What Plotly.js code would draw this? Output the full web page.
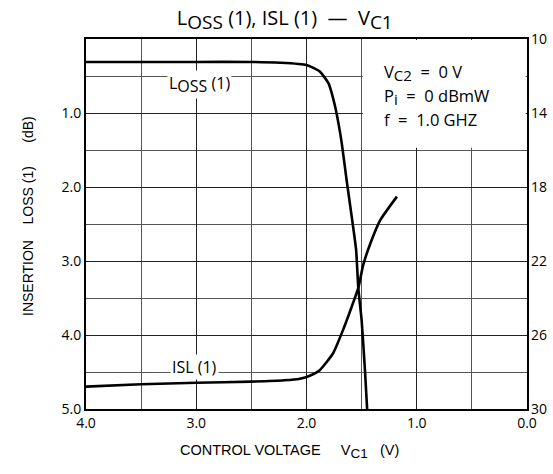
<!DOCTYPE html>
<html>
<head>
<meta charset="utf-8">
<script src="https://cdn.plot.ly/plotly-3.0.1.min.js"></script>
<style>html,body{margin:0;padding:0;background:#fff;}#chart{width:553px;height:474px;}</style>
</head>
<body>
<div id="chart"></div>
<script>
// Insertion loss (left axis, dB) vs control voltage VC1
var vc1Loss = [4.0, 3.5, 3.0, 2.5, 2.24, 2.0, 1.88, 1.80, 1.74, 1.71, 1.68, 1.635, 1.59, 1.55, 1.53, 1.50, 1.47, 1.45];
var lossDb  = [0.31, 0.31, 0.31, 0.31, 0.32, 0.35, 0.44, 0.60, 0.915, 1.14, 1.41, 1.92, 2.40, 2.85, 3.37, 3.80, 4.47, 5.0];
// Isolation (right axis, dB) vs control voltage VC1
var vc1Isl = [4.0, 3.5, 3.0, 2.5, 2.2, 2.06, 1.97, 1.88, 1.76, 1.67, 1.59, 1.53, 1.485, 1.42, 1.33, 1.18];
var islDb  = [28.79, 28.66, 28.58, 28.52, 28.45, 28.36, 28.2, 27.9, 27.0, 25.75, 24.47, 23.45, 22.2, 21.04, 19.78, 18.52];
// Tick labels
var xTickVals = [4, 3, 2, 1, 0];
var xTickText = ['4.0', '3.0', '2.0', '1.0', '0.0'];
var yTickVals = [1, 2, 3, 4, 5];
var yTickText = ['1.0', '2.0', '3.0', '4.0', '5.0'];
var y2TickVals = [10, 14, 18, 22, 26, 30];

var FONT = '"Open Sans", "Noto Sans", sans-serif';
var FONT2 = '"Liberation Sans", Arial, sans-serif';
var NB = '\u00a0';
function sp(n) { return new Array(n + 1).join(NB); }
function lowered(s, px) { return '<sub><span style="font-size:' + px + 'px">' + s + '</span></sub>'; }

var traces = [
  {x: vc1Loss, y: lossDb, type: 'scatter', mode: 'lines', name: 'Loss (1)',
   line: {color: '#000', width: 2.6, shape: 'spline', smoothing: 0.5}, yaxis: 'y', hoverinfo: 'skip'},
  {x: vc1Isl, y: islDb, type: 'scatter', mode: 'lines', name: 'ISL (1)',
   line: {color: '#000', width: 2.6, shape: 'spline', smoothing: 0.5}, yaxis: 'y2', hoverinfo: 'skip'}
];

var layout = {
  width: 553, height: 474,
  margin: {l: 86, r: 26, t: 39, b: 65},
  paper_bgcolor: '#fff', plot_bgcolor: '#fff',
  showlegend: false,
  font: {family: FONT, color: '#000', size: 14},
  title: {text: 'L' + lowered('OSS', 19) + ' (1), ISL (1) ' + NB + '\u2014' + NB + ' V' + lowered('C1', 19),
          font: {family: FONT, size: 20, color: '#000'},
          x: 0.515, xref: 'container', xanchor: 'center', y: 0.962, yref: 'container', yanchor: 'middle'},
  xaxis: {
    range: [4, 0], tickmode: 'array', tickvals: xTickVals, ticktext: xTickText,
    showgrid: true, gridcolor: '#222', gridwidth: 1,
    minor: {dtick: 0.5, tick0: 0, showgrid: true, gridcolor: '#555', gridwidth: 1, ticks: ''},
    showline: true, mirror: true, linecolor: '#000', linewidth: 2, ticks: '',
    zeroline: false, tickfont: {size: 14, family: FONT}, fixedrange: true
  },
  yaxis: {
    range: [5, 0], tickmode: 'array', tickvals: yTickVals, ticktext: yTickText,
    showgrid: true, gridcolor: '#222', gridwidth: 1,
    minor: {dtick: 0.5, tick0: 0, showgrid: true, gridcolor: '#555', gridwidth: 1, ticks: ''},
    showline: true, mirror: true, linecolor: '#000', linewidth: 2, ticks: '',
    zeroline: false, tickfont: {size: 14, family: FONT}, fixedrange: true
  },
  yaxis2: {
    overlaying: 'y', side: 'right', range: [30, 10], tickmode: 'array', tickvals: y2TickVals,
    showgrid: false, zeroline: false, showline: false, ticks: '', ticklabelstandoff: 3,
    tickfont: {size: 14, family: FONT}, fixedrange: true
  },
  shapes: [
    {type: 'rect', xref: 'x', yref: 'y', x0: 1.49, x1: 0.012, y0: 0.015, y1: 1.47,
     fillcolor: '#fff', line: {width: 0}, layer: 'above'}
  ],
  annotations: [
    {text: 'L' + lowered('OSS', 16) + ' (1)', xref: 'x', yref: 'y', x: 2.97, y: 0.62, showarrow: false,
     bgcolor: '#fff', font: {size: 16, family: FONT}, xanchor: 'center', yanchor: 'middle'},
    {text: 'ISL (1)', xref: 'x', yref: 'y', x: 3.02, y: 4.43, showarrow: false,
     bgcolor: '#fff', font: {size: 16, family: FONT}, xanchor: 'center', yanchor: 'middle'},
    {text: 'V' + lowered('C2', 15) + sp(2) + '=' + sp(2) + '0 V', xref: 'paper', yref: 'paper', x: (382 - 86) / 441, y: 1 - (72 - 39) / 370,
     showarrow: false, xanchor: 'left', yanchor: 'middle', font: {size: 16.5, family: FONT}},
    {text: 'P' + lowered('i', 15) + sp(2) + '=' + sp(2) + '0 dBmW', xref: 'paper', yref: 'paper', x: (382 - 86) / 441, y: 1 - (96 - 39) / 370,
     showarrow: false, xanchor: 'left', yanchor: 'middle', font: {size: 16.5, family: FONT}},
    {text: 'f' + sp(2) + '=' + sp(2) + '1.0 GHZ', xref: 'paper', yref: 'paper', x: (382 - 86) / 441, y: 1 - (119 - 39) / 370,
     showarrow: false, xanchor: 'left', yanchor: 'middle', font: {size: 16.5, family: FONT}},
    {text: 'CONTROL VOLTAGE' + sp(5) + 'V' + lowered('C1', 13.5) + sp(3) + '(V)', xref: 'paper', yref: 'paper',
     x: (289 - 86) / 441, y: -(451 - 409) / 370, showarrow: false, xanchor: 'center', yanchor: 'middle',
     font: {size: 14.5, family: FONT2}},
    {text: 'INSERTION' + sp(4) + 'LOSS (1)' + sp(6) + '(dB)', xref: 'paper', yref: 'paper',
     x: -(86 - 28) / 441, y: 1 - (216 - 39) / 370, showarrow: false, textangle: -90,
     xanchor: 'center', yanchor: 'middle', font: {size: 14, family: FONT2}}
  ]
};

Plotly.newPlot('chart', traces, layout, {staticPlot: true, displayModeBar: false});
</script>
</body>
</html>
